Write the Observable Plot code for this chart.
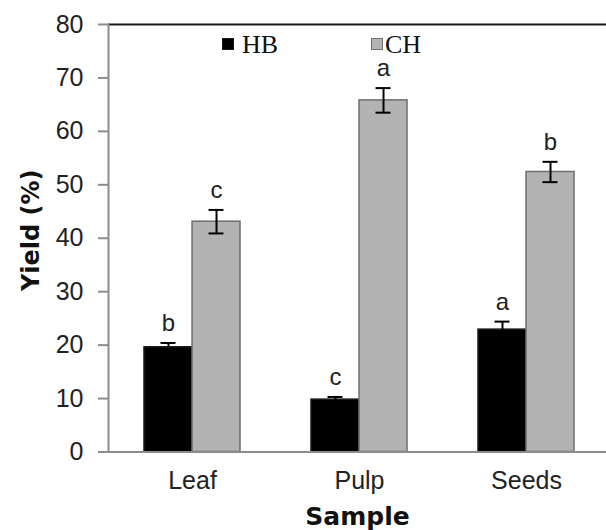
<!DOCTYPE html>
<html>
<head>
<meta charset="utf-8">
<script src="https://cdn.jsdelivr.net/npm/d3@7"></script>
<script src="https://cdn.jsdelivr.net/npm/@observablehq/plot@0.6"></script>
<style>
  html, body { margin: 0; padding: 0; background: #fff; }
  #wrap { position: relative; width: 606px; height: 530px; overflow: hidden; }
  #legend { position: absolute; left: 0; top: 0; font-family: "Liberation Serif", "Times New Roman", serif; font-size: 26px; color: #111; }
  .sw { position: absolute; width: 12px; height: 12px; box-sizing: border-box; }
  .lb { position: absolute; line-height: 1; }
</style>
</head>
<body>
<div id="wrap"></div>
<script>
// ---- data ----
const categories = ["Leaf", "Pulp", "Seeds"];
const series = ["HB", "CH"];
const hbValues = [19.6, 9.8, 22.9];
const hbErrors = [0.8, 0.5, 1.5];
const hbLetters = ["b", "c", "a"];
const chValues = [43.1, 65.8, 52.4];
const chErrors = [2.2, 2.3, 1.9];
const chLetters = ["c", "a", "b"];
const yTicks = [0, 10, 20, 30, 40, 50, 60, 70, 80];

// ---- layout / style ----
const W = 606, H = 530;
const xRange = [108, 610];
const padIn = 0.426;
const step = (xRange[1] - xRange[0]) / categories.length;
const bw = step * (1 - padIn);
const half = bw / 2;
const capW = 15;
const capIn = (half - capW) / 2;
const colors = {HB: "#000000", CH: "#b3b3b3"};
const strokes = {HB: "#1a1a1a", CH: "#6e6e6e"};

const hbRows = categories.map((c, i) => ({cat: c, series: "HB", value: hbValues[i], err: hbErrors[i], letter: hbLetters[i]}));
const chRows = categories.map((c, i) => ({cat: c, series: "CH", value: chValues[i], err: chErrors[i], letter: chLetters[i]}));

function seriesMarks(rows, s) {
  const left = s === "HB";
  const off = left ? -half / 2 : half / 2;
  return [
    Plot.barY(rows, {
      x: "cat", y: "value",
      fill: colors[s], stroke: strokes[s], strokeWidth: 1.5,
      insetLeft: left ? 0 : half, insetRight: left ? half : 0
    }),
    Plot.ruleX(rows, {
      x: "cat", y1: d => d.value - d.err, y2: d => d.value + d.err,
      dx: off, stroke: "#000", strokeWidth: 2
    }),
    Plot.tickY(rows, {
      x: "cat", y: d => d.value + d.err, stroke: "#000", strokeWidth: 2,
      insetLeft: left ? capIn : half + capIn, insetRight: left ? half + capIn : capIn
    }),
    Plot.tickY(rows, {
      x: "cat", y: d => d.value - d.err, stroke: "#000", strokeWidth: 2,
      insetLeft: left ? capIn : half + capIn, insetRight: left ? half + capIn : capIn
    }),
    Plot.text(rows, {
      x: "cat", y: d => d.value + d.err, text: "letter",
      dx: off, dy: -12, lineAnchor: "bottom",
      fontSize: 24, fontFamily: "Liberation Sans, Arial, sans-serif", fill: "#222"
    })
  ];
}

const chart = Plot.plot({
  width: W, height: H,
  marginLeft: 108, marginRight: 0, marginTop: 24, marginBottom: 78.5,
  style: {background: "#fff", fontFamily: "Liberation Sans, Arial, sans-serif"},
  x: {domain: categories, range: xRange, paddingInner: padIn, paddingOuter: padIn / 2, axis: null},
  y: {domain: [0, 80], axis: null},
  marks: [
    ...seriesMarks(hbRows, "HB"),
    ...seriesMarks(chRows, "CH"),
    Plot.ruleY([0], {stroke: "#8c8c8c", strokeWidth: 2}),
    Plot.ruleY([80], {stroke: "#1a1a1a", strokeWidth: 2}),
    Plot.frame({anchor: "left", stroke: "#8c8c8c", strokeWidth: 2}),
    Plot.axisY({ticks: yTicks, tickSize: 10, tickPadding: 15, fontSize: 25, stroke: "#8c8c8c", fill: "#222", label: null, strokeWidth: 2}),
    Plot.axisX({tickSize: 0, tickPadding: 19, fontSize: 25, fill: "#222", label: null}),
    Plot.text(["Sample"], {frameAnchor: "bottom", dy: 73, lineAnchor: "bottom", textAnchor: "middle", fontSize: 25, fontWeight: "bold", fontFamily: "DejaVu Sans, Verdana, sans-serif", fill: "#111"}),
    Plot.text(["Yield (%)"], {frameAnchor: "left", dx: -77, dy: -8, rotate: -90, textAnchor: "middle", lineAnchor: "middle", fontSize: 24, fontWeight: "bold", fontFamily: "DejaVu Sans, Verdana, sans-serif", fill: "#111"})
  ]
});

const wrap = document.getElementById("wrap");
wrap.appendChild(chart);

// legend (inside plot area, top)
const legend = document.createElement("div");
legend.id = "legend";
const legendItems = [
  {name: series[0], sw: 222, tx: 242},
  {name: series[1], sw: 371, tx: 385}
];
legendItems.forEach(it => {
  const sw = document.createElement("div");
  sw.className = "sw";
  sw.style.left = it.sw + "px";
  sw.style.top = "38px";
  sw.style.background = colors[it.name];
  sw.style.border = "1.5px solid " + strokes[it.name];
  legend.appendChild(sw);
  const lb = document.createElement("div");
  lb.className = "lb";
  lb.style.left = it.tx + "px";
  lb.style.top = "32px";
  lb.textContent = it.name;
  legend.appendChild(lb);
});
wrap.appendChild(legend);
</script>
</body>
</html>
